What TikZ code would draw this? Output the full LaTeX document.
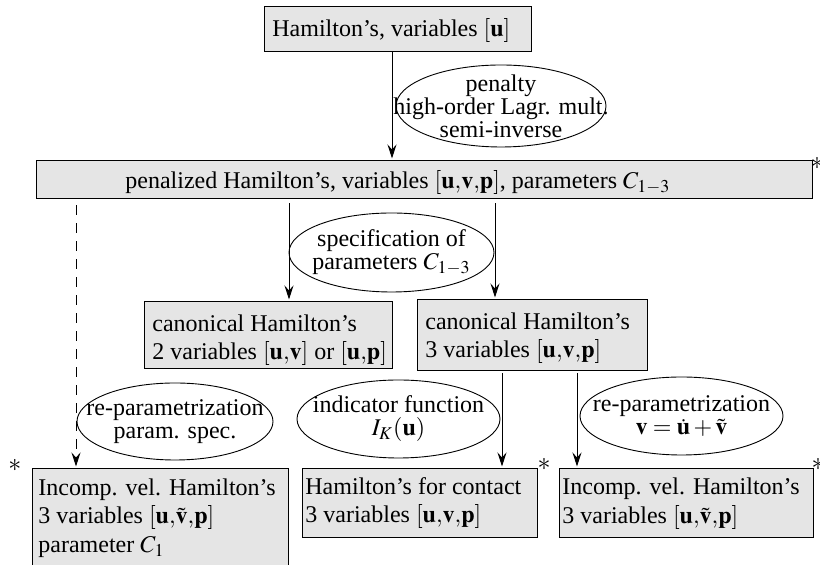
\documentclass[tikz,border=0pt]{standalone}
\usepackage{mathptmx}
\usepackage[no-math]{fontspec}
\setmainfont{Liberation Serif}
\usetikzlibrary{arrows.meta,shapes.geometric,fit}
\definecolor{boxgray}{HTML}{E5E5E5}
\tikzset{
  box/.style={draw, fill=boxgray, inner sep=0pt, line width=0.5pt},
  txt/.style={anchor=base west, inner sep=0pt, font=\fontsize{12}{14.5}\selectfont},
  oval/.style={draw, ellipse, inner sep=0pt, line width=0.45pt},
  ovaltxt/.style={inner sep=0pt, align=center, font=\fontsize{12}{11.5}\selectfont},
  arr/.style={-{Stealth[length=7pt,width=4.5pt,inset=2.5pt]}, line width=0.45pt, shorten >=1pt},
  dasharr/.style={arr, dash pattern=on 5pt off 4pt},
  starmark/.style={inner sep=0pt, font=\fontsize{13}{14}\selectfont}
}
\begin{document}
\begin{tikzpicture}[x=0.5pt,y=-0.5pt]
\useasboundingbox (0,0) rectangle (820,565);

% boxes
\node[box, fit={(264,7) (531,52)}] (top) {};
\node[txt] (toptxt) at (272,37) {Hamilton's, variables $[\mathbf{u}]$};

\node[box, fit={(36,161) (812,199)}] (pen) {};
\node[txt] (pentxt) at (125,189) {penalized Hamilton's, variables $[\mathbf{u}{,}\mathbf{v}{,}\mathbf{p}]$, parameters $C_{1-3}$};

\node[box, fit={(144,302) (392,369)}] (canL) {};
\node[txt] (canLa) at (152,332) {canonical Hamilton's};
\node[txt] (canLb) at (152,360) {2 variables $[\mathbf{u}{,}\mathbf{v}]$ or $[\mathbf{u}{,}\mathbf{p}]$};

\node[box, fit={(417,300) (647,371)}] (canR) {};
\node[txt] (canRa) at (425,330) {canonical Hamilton's};
\node[txt] (canRb) at (425,358) {3 variables $[\mathbf{u}{,}\mathbf{v}{,}\mathbf{p}]$};

\node[box, fit={(32,469) (288,572)}] (incL) {};
\node[txt] (incLa) at (38,496) {Incomp. vel. Hamilton's};
\node[txt] (incLb) at (38,524) {3 variables $[\mathbf{u}{,}\tilde{\mathbf{v}}{,}\mathbf{p}]$};
\node[txt] (incLc) at (38,553) {parameter $C_1$};

\node[box, fit={(302,469) (537,538)}] (cont) {};
\node[txt] (conta) at (305,495) {Hamilton's for contact};
\node[txt] (contb) at (305,523) {3 variables $[\mathbf{u}{,}\mathbf{v}{,}\mathbf{p}]$};

\node[box, fit={(559,469) (813,538)}] (incR) {};
\node[txt] (incRa) at (562,495) {Incomp. vel. Hamilton's};
\node[txt] (incRb) at (562,524) {3 variables $[\mathbf{u}{,}\tilde{\mathbf{v}}{,}\mathbf{p}]$};

% stars
\node[starmark] (s1) at (817,163) {$\ast$};
\node[starmark] (s2) at (15,465) {$\ast$};
\node[starmark] (s3) at (544,464) {$\ast$};
\node[starmark] (s4) at (818,464) {$\ast$};

% ellipses
\node[oval, minimum width=105pt, minimum height=41pt] (e1) at (501,106) {};
\node[ovaltxt] (e1t) at (e1.center) {penalty\\high-order Lagr. mult.\\semi-inverse};

\node[oval, minimum width=102.5pt, minimum height=39.5pt] (e2) at (391.5,252.5) {};
\node[ovaltxt] (e2t) at (e2.center) {specification of\\parameters $C_{1-3}$};

\node[oval, minimum width=98pt, minimum height=38.5pt] (e3) at (175,421.5) {};
\node[ovaltxt] (e3t) at (e3.center) {re-parametrization\\param. spec.};

\node[oval, minimum width=101.5pt, minimum height=39pt] (e4) at (398.5,419) {};
\node[ovaltxt] (e4t) at (e4.center) {indicator function\\$I_K(\mathbf{u})$};

\node[oval, minimum width=101.5pt, minimum height=39pt] (e5) at (681.5,416) {};
\node[ovaltxt] (e5t) at (e5.center) {re-parametrization\\$\mathbf{v}=\dot{\mathbf{u}}+\tilde{\mathbf{v}}$};

% x positions of connectors
\coordinate (xa) at (392,0);
\coordinate (xb) at (289,0);
\coordinate (xc) at (495,0);
\coordinate (xd) at (76,0);
\coordinate (xe) at (502,0);
\coordinate (xf) at (577,0);

% connectors
\draw[arr] (top.south -| xa) -- (pen.north -| xa);
\draw[arr, shorten <=2pt] (pen.south -| xb) -- (canL.north -| xb);
\draw[arr, shorten <=2pt] (pen.south -| xc) -- (canR.north -| xc);
\draw[dasharr, shorten <=3pt] (pen.south -| xd) -- (incL.north -| xd);
\draw[arr, shorten <=1pt] (canR.south -| xe) -- (cont.north -| xe);
\draw[arr, shorten <=1pt] (canR.south -| xf) -- (incR.north -| xf);
\end{tikzpicture}
\end{document}
